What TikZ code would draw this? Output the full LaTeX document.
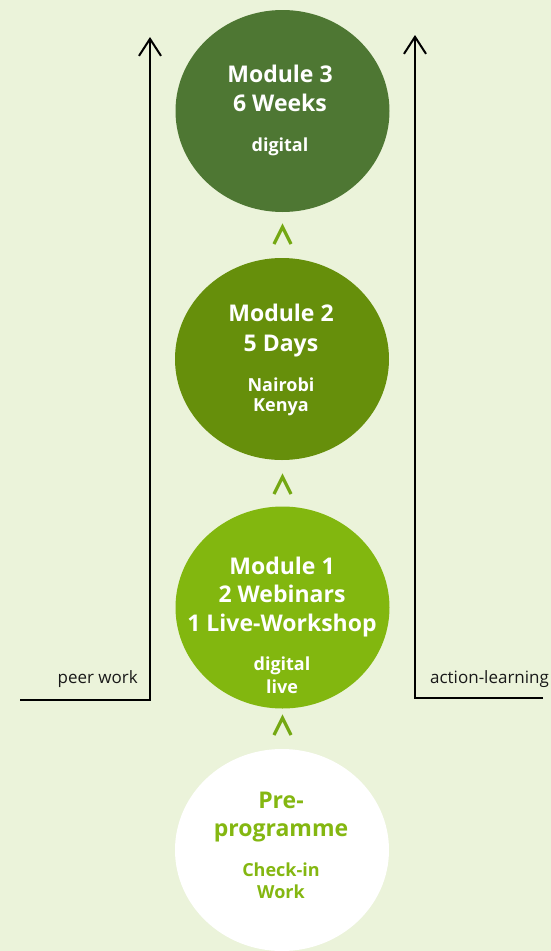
\documentclass[tikz,border=0pt]{standalone}
\usepackage{fontspec}
\setmainfont{Open Sans}
\usetikzlibrary{shapes.geometric,arrows.meta}
\definecolor{bg}{HTML}{EBF3DA}
\definecolor{mthree}{HTML}{4E7733}
\definecolor{mtwo}{HTML}{668F0B}
\definecolor{mone}{HTML}{82B70F}
\definecolor{chevc}{HTML}{74A812}
\definecolor{pretext}{HTML}{84B711}
\begin{document}
\begin{tikzpicture}[x=1pt,y=-1pt,
  blob/.style={ellipse, draw=none, inner sep=0pt, minimum width=214pt, minimum height=202pt},
  bigtxt/.style={font=\fontsize{23}{28}\selectfont\bfseries, text=white, anchor=base, inner sep=0pt},
  smalltxt/.style={font=\fontsize{18}{21}\selectfont\bfseries, text=white, anchor=base, inner sep=0pt},
  sidetxt/.style={font=\fontsize{17}{20}\selectfont, text=black!90, inner sep=0pt},
  sidearrow/.style={draw=black, line width=2pt, -{Straight Barb[length=17pt,width=22pt,line width=2pt]}},
  chev/.pic={\draw[chevc, line width=3.2pt, line cap=butt, line join=miter] (-8.5,17) -- (0,0) -- (8.5,17);}
]
\fill[bg] (0,0) rectangle (551,951);
\useasboundingbox (0,0) rectangle (551,951);

% circles
\node[blob, fill=mthree] (m3) at (282.5,111) {};
\node[blob, fill=mtwo] (m2) at (282,359) {};
\node[blob, fill=mone] (m1) at (282.5,607.5) {};
\node[blob, fill=white] (pre) at (282,850) {};

% chevrons
\pic (c1) at (282.5,227) {chev};
\pic (c2) at (282.5,477) {chev};
\pic (c3) at (282.5,718) {chev};

% module 3 text
\node[bigtxt] (t3a) at (280,82.7) {Module 3};
\node[bigtxt] (t3b) at (280,111.7) {6 Weeks};
\node[smalltxt] (t3c) at (280,151.7) {digital};

% module 2 text
\node[bigtxt] (t2a) at (281,321) {Module 2};
\node[bigtxt] (t2b) at (281,351) {5 Days};
\node[smalltxt] (t2c) at (281,391.7) {Nairobi};
\node[smalltxt] (t2d) at (281,411.7) {Kenya};

% module 1 text
\node[bigtxt] (t1a) at (282,574) {Module 1};
\node[bigtxt] (t1b) at (282,602.3) {2 Webinars};
\node[bigtxt] (t1c) at (282,631) {1 Live-Workshop};
\node[smalltxt] (t1d) at (282,670.7) {digital};
\node[smalltxt] (t1e) at (282,693.3) {live};

% pre-programme text
\node[bigtxt, text=pretext] (tpa) at (281,808.3) {Pre-};
\node[bigtxt, text=pretext] (tpb) at (281,836.7) {programme};
\node[smalltxt, text=pretext] (tpc) at (281,876.7) {Check-in};
\node[smalltxt, text=pretext] (tpd) at (281,898) {Work};

% side arrows
\coordinate (ls) at (20,700);
\coordinate (lc) at (150,700);
\coordinate (lt) at (150,37);
\draw[sidearrow] (ls) -- (lc) -- (lt);
\coordinate (rs) at (543,698);
\coordinate (rc) at (415,698);
\coordinate (rt) at (415,35);
\draw[sidearrow] (rs) -- (rc) -- (rt);

\node[sidetxt, anchor=base east] (pw) at (138,683) {peer work};
\node[sidetxt, anchor=base west] (al) at (430,683) {action-learning};
\end{tikzpicture}
\end{document}
